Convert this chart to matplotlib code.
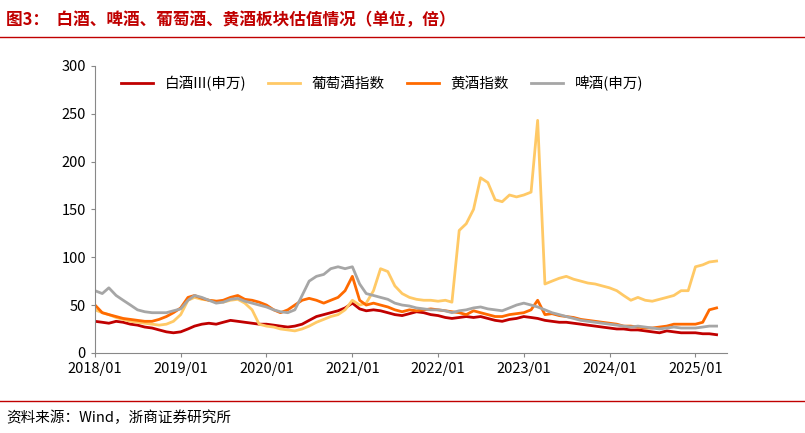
import matplotlib
matplotlib.use("Agg")
import matplotlib.pyplot as plt
import pandas as pd

plt.rcParams['font.family'] = ['Noto Sans CJK SC', 'DejaVu Sans']

dates = pd.date_range("2018-01-01", periods=88, freq="MS")
baijiu = [33,32,31,33,32,30,29,27,26,24,22,21,
          22,25,28,30,31,30,32,34,33,32,31,30,
          30,29,28,27,28,30,34,38,40,42,44,47,
          52,46,44,45,44,42,40,39,41,43,42,40,
          39,37,36,37,38,37,38,36,34,33,35,36,
          38,37,36,34,33,32,32,31,30,29,28,27,
          26,25,25,24,24,23,22,21,23,22,21,21,
          21,20,20,19]
wine = [45,42,40,37,35,33,32,31,30,29,30,33,
        40,55,58,56,55,54,53,55,56,52,45,30,
        28,27,25,24,23,25,28,32,35,38,40,45,
        55,50,52,65,88,85,70,62,58,56,55,55,
        54,55,53,128,135,150,183,178,160,158,165,163,
        165,168,243,72,75,78,80,77,75,73,72,70,
        68,65,60,55,58,55,54,56,58,60,65,65,
        90,92,95,96]
huangjiu = [50,42,40,38,36,35,34,33,33,35,38,42,
            47,58,60,57,55,54,55,58,60,56,55,53,
            50,45,42,45,50,55,57,55,52,55,58,65,
            80,55,50,52,50,48,45,43,45,44,45,46,
            45,44,43,42,40,44,42,40,38,38,40,41,
            42,45,55,40,41,39,38,37,35,34,33,32,
            31,30,28,28,27,26,26,27,28,30,30,30,
            30,32,45,47]
beer = [65,62,68,60,55,50,45,43,42,42,42,44,
        46,55,60,58,55,52,53,56,57,54,52,50,
        48,45,43,42,45,60,75,80,82,88,90,88,
        90,72,62,60,58,56,52,50,49,47,46,45,
        45,44,42,44,45,47,48,46,45,44,47,50,
        52,50,48,45,42,40,38,36,34,33,32,31,
        30,29,28,27,28,27,26,25,26,27,26,26,
        26,27,28,28]
labels = ["白酒III(申万)", "葡萄酒指数", "黄酒指数", "啤酒(申万)"]
colors = ["#C00000", "#FFC966", "#FF6A00", "#A6A6A6"]
xticks = [f"{y}/01" for y in range(2018, 2026)]

fig = plt.figure(figsize=(8.05, 4.33), dpi=100)
ax = fig.add_axes([0.118, 0.185, 0.785, 0.663])
for s, lab, c in zip([baijiu, wine, huangjiu, beer], labels, colors):
    ax.plot(dates, s, color=c, lw=2, label=lab)
ax.set_ylim(0, 300)
ax.set_yticks(range(0, 301, 50))
ax.set_xlim(pd.Timestamp("2018-01-01"), pd.Timestamp("2025-05-15"))
ax.set_xticks([pd.Timestamp(f"{y}-01-01") for y in range(2018, 2026)])
ax.set_xticklabels(xticks)
for sp in ["top", "right"]:
    ax.spines[sp].set_visible(False)
ax.spines["left"].set_color("#888888")
ax.spines["bottom"].set_color("#888888")
ax.tick_params(labelsize=10.5, length=3, color="#888888")
ax.legend(loc="upper left", ncol=4, frameon=False, fontsize=10.5,
          bbox_to_anchor=(0.02, 1.01), handlelength=2.2, columnspacing=1.5)

fig.text(0.008, 0.955, "图3：  白酒、啤酒、葡萄酒、黄酒板块估值情况（单位，倍）",
         color="#C00000", fontsize=12, fontweight="bold", va="center")
fig.add_artist(plt.Line2D([0, 1], [0.915, 0.915], color="#C00000", lw=1))
fig.add_artist(plt.Line2D([0, 1], [0.075, 0.075], color="#C00000", lw=1))
fig.text(0.008, 0.035, "资料来源：Wind，浙商证券研究所", fontsize=10.5, va="center")
fig.savefig("out.png", dpi=100)
